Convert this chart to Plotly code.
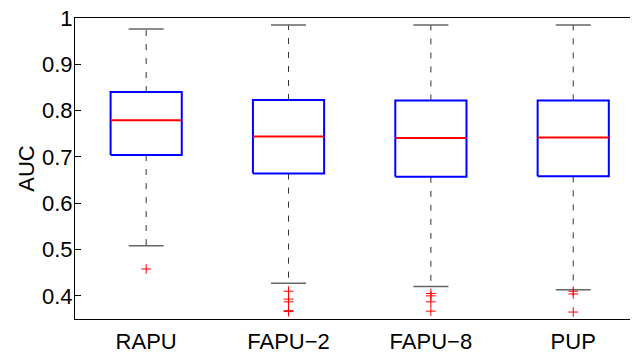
import plotly.graph_objects as go

categories = ["RAPU", "FAPU\u22122", "FAPU\u22128", "PUP"]
q1 = [0.704, 0.664, 0.657, 0.658]
median = [0.779, 0.744, 0.741, 0.742]
q3 = [0.840, 0.823, 0.822, 0.822]
upper_whisker = [0.976, 0.985, 0.985, 0.985]
lower_whisker = [0.508, 0.427, 0.420, 0.413]
outliers_rapu = [0.458]
outliers_fapu2 = [0.410, 0.393, 0.387, 0.368, 0.366]
outliers_fapu8 = [0.405, 0.400, 0.387, 0.367]
outliers_pup = [0.410, 0.404, 0.365]
ytick_vals = [0.4, 0.5, 0.6, 0.7, 0.8, 0.9, 1.0]
ytick_text = ["0.4", "0.5", "0.6", "0.7", "0.8", "0.9", "1"]

outliers = [outliers_rapu, outliers_fapu2, outliers_fapu8, outliers_pup]
positions = [i + 1 for i in range(len(categories))]
BOX_HW = 0.25
CAP_HW = 0.123
FONT = "Liberation Sans, Arial, Helvetica, sans-serif"
FS = 22

fig = go.Figure()
for i, c in enumerate(positions):
    # whiskers (dashed)
    fig.add_trace(go.Scatter(
        x=[c, c, None, c, c],
        y=[q3[i], upper_whisker[i], None, q1[i], lower_whisker[i]],
        mode="lines", line=dict(color="#333333", width=1, dash="6px,8px"),
        hoverinfo="skip", showlegend=False))
    # caps
    fig.add_trace(go.Scatter(
        x=[c - CAP_HW, c + CAP_HW, None, c - CAP_HW, c + CAP_HW],
        y=[upper_whisker[i], upper_whisker[i], None, lower_whisker[i], lower_whisker[i]],
        mode="lines", line=dict(color="#666666", width=1.5),
        hoverinfo="skip", showlegend=False))
    # box
    fig.add_trace(go.Scatter(
        x=[c - BOX_HW, c + BOX_HW, c + BOX_HW, c - BOX_HW, c - BOX_HW],
        y=[q1[i], q1[i], q3[i], q3[i], q1[i]],
        mode="lines", line=dict(color="#0000FF", width=2),
        hoverinfo="skip", showlegend=False))
    # median
    fig.add_trace(go.Scatter(
        x=[c - BOX_HW, c + BOX_HW], y=[median[i], median[i]],
        mode="lines", line=dict(color="#FF0000", width=2),
        hoverinfo="skip", showlegend=False))
    # outliers
    fig.add_trace(go.Scatter(
        x=[c] * len(outliers[i]), y=outliers[i], mode="markers",
        marker=dict(symbol="cross-thin", size=7, line=dict(color="#FF0000", width=1)),
        showlegend=False))

# page body has a default 8px margin: size the figure so the plot lands where the reference has it
fig.update_layout(
    width=630, height=346,
    margin=dict(l=67, r=0, t=10, b=35),
    paper_bgcolor="white", plot_bgcolor="white",
    font=dict(family=FONT, size=FS, color="black"),
    xaxis=dict(range=[0.5, 4.455], tickvals=positions, ticktext=categories,
               showline=True, mirror=True, linecolor="black", linewidth=1,
               ticks="", showgrid=False, zeroline=False, automargin=False,
               tickfont=dict(size=FS), ticklabelstandoff=3,
               ticklabeloverflow="allow"),
    yaxis=dict(range=[0.35, 1.0], tickvals=ytick_vals, ticktext=ytick_text,
               ticks="inside", ticklen=6, tickcolor="black", tickwidth=1,
               showline=True, linecolor="black", linewidth=1, mirror=False,
               showgrid=False, zeroline=False, automargin=False,
               tickfont=dict(size=FS), ticklabelstandoff=-3,
               ticklabeloverflow="allow",
               title=dict(text="AUC", font=dict(size=FS), standoff=1)),
)

fig.write_html("out.html")
